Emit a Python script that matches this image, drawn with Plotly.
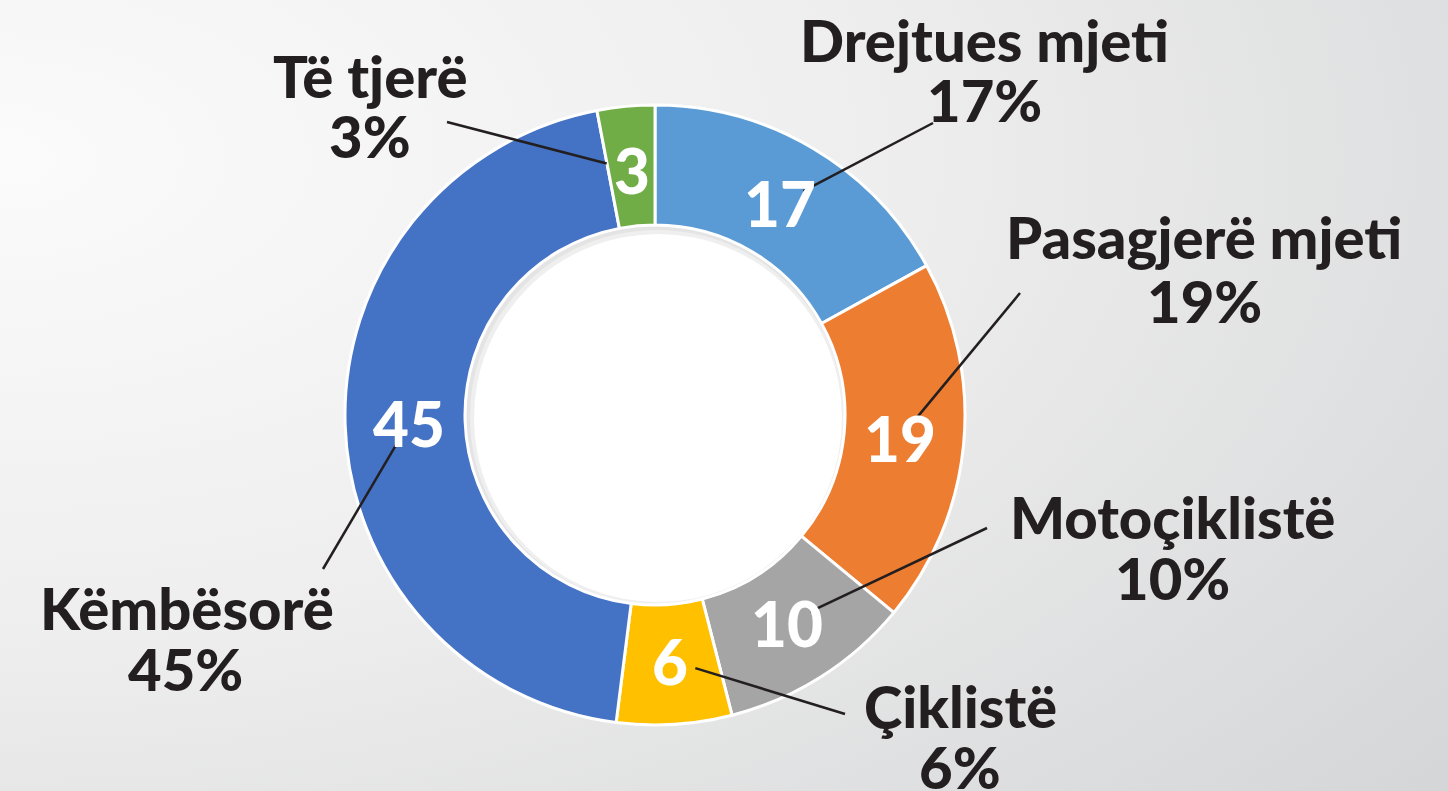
import base64
import math
import plotly.graph_objects as go

# ---- data ----
categories = ["Drejtues mjeti", "Pasagjerë mjeti", "Motoçiklistë", "Çiklistë", "Këmbësorë", "Të tjerë"]
values = [17, 19, 10, 6, 45, 3]
percent_labels = ["17%", "19%", "10%", "6%", "45%", "3%"]

# ---- styles / layout ----
colors = ["#5B9BD5", "#ED7D31", "#A5A5A5", "#FFC000", "#4472C4", "#70AD47"]
W, H = 1448, 791
CX, CY, R_OUT, R_IN = 655, 415, 310, 190
R_LABEL = 246
FONT = "Lato"
TEXT_COLOR = "#231f20"

# outer label placement (pixels): name center, percent center, leader-line outer end
outer_layout = [
    dict(name=(984, 39), pct=(984, 100), end=(933, 123)),
    dict(name=(1204, 237), pct=(1204, 300), end=(1020, 293)),
    dict(name=(1172, 516), pct=(1172, 577), end=(987, 528)),
    dict(name=(960, 705), pct=(960, 766), end=(845, 714)),
    dict(name=(187, 607), pct=(185, 668), end=(323, 569)),
    dict(name=(370, 76), pct=(370, 136), end=(447, 122)),
]
LINE_GAP = 26


def px(x):
    return x / W


def py(y):
    return 1 - y / H


fig = go.Figure(go.Pie(
    labels=categories,
    values=values,
    sort=False,
    direction="clockwise",
    rotation=0,
    hole=R_IN / R_OUT,
    marker=dict(colors=colors, line=dict(color="white", width=3)),
    textinfo="none",
    hoverinfo="label+value",
    showlegend=False,
    domain=dict(x=[px(CX - R_OUT), px(CX + R_OUT)], y=[py(CY + R_OUT), py(CY - R_OUT)]),
))

# background gradient
svg = (
    f'<svg xmlns="http://www.w3.org/2000/svg" width="{W}" height="{H}">'
    '<defs><radialGradient id="g" cx="0" cy="0.2" r="1.35" gradientUnits="objectBoundingBox">'
    '<stop offset="0" stop-color="#fbfbfb"/><stop offset="0.45" stop-color="#eeeeee"/>'
    '<stop offset="1" stop-color="#d2d3d5"/></radialGradient></defs>'
    f'<rect width="{W}" height="{H}" fill="url(#g)"/></svg>'
)
src = "data:image/svg+xml;base64," + base64.b64encode(svg.encode()).decode()

shapes = []
# inner disc with soft shadow
for r, col, off in [(R_IN, "#e4e4e4", 0), (R_IN - 3, "#efefef", 2), (R_IN - 6, "#ffffff", 3)]:
    shapes.append(dict(type="circle", xref="paper", yref="paper", layer="below",
                       x0=px(CX - r + off), x1=px(CX + r + off),
                       y0=py(CY + r + off), y1=py(CY - r + off),
                       line=dict(width=0), fillcolor=col))

annotations = []
total = sum(values)
cum = 0
for i, v in enumerate(values):
    mid = (cum + v / 2) / total * 2 * math.pi
    cum += v
    lx = CX + R_LABEL * math.sin(mid)
    ly = CY - R_LABEL * math.cos(mid)
    annotations.append(dict(x=px(lx), y=py(ly), xref="paper", yref="paper", text=str(v),
                            showarrow=False, font=dict(family=FONT, size=62, color="white", weight=900),
                            xanchor="center", yanchor="middle"))
    o = outer_layout[i]
    ex, ey = o["end"]
    dx, dy = ex - lx, ey - ly
    d = math.hypot(dx, dy)
    sx, sy = lx + dx / d * LINE_GAP, ly + dy / d * LINE_GAP
    shapes.append(dict(type="line", xref="paper", yref="paper", x0=px(sx), y0=py(sy),
                       x1=px(ex), y1=py(ey), line=dict(color=TEXT_COLOR, width=2.5)))
    for key, txt in (("name", categories[i]), ("pct", percent_labels[i])):
        tx, ty = o[key]
        annotations.append(dict(x=px(tx), y=py(ty), xref="paper", yref="paper", text=txt,
                                showarrow=False, font=dict(family=FONT, size=58, color=TEXT_COLOR, weight=900),
                                xanchor="center", yanchor="middle"))

fig.update_layout(
    width=W, height=H,
    margin=dict(l=0, r=0, t=0, b=0),
    paper_bgcolor="#e8e8e8",
    images=[dict(source=src, xref="paper", yref="paper", x=0, y=1, sizex=1, sizey=1,
                 xanchor="left", yanchor="top", sizing="stretch", layer="below")],
    shapes=shapes,
    annotations=annotations,
)

fig.write_html("out.html", config={"displayModeBar": False},
               post_script="document.body.style.margin='0';document.body.style.overflow='hidden';")
